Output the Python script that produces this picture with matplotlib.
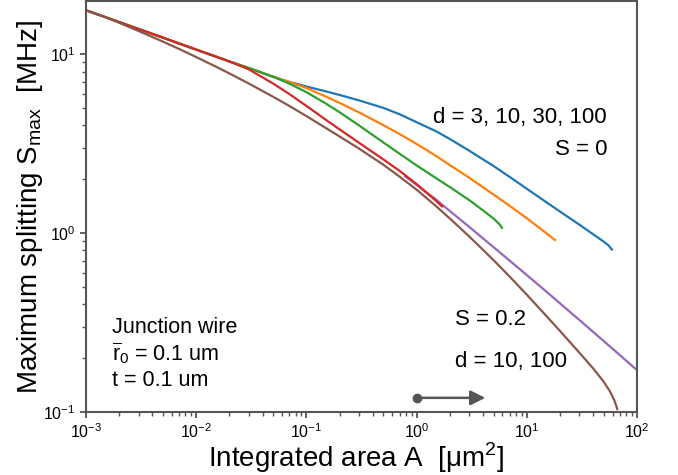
import numpy as np
import matplotlib
matplotlib.use("Agg")
import matplotlib.pyplot as plt

plt.rcParams['font.family'] = ['Liberation Sans', 'DejaVu Sans']
plt.rcParams['mathtext.fontset'] = 'dejavusans'

# S = 0 curves, d = 3, 10, 30, 100 (area in um^2, splitting in MHz)
area_d3 = [1e-3, 1.5e-3, 2e-3, 3e-3, 5e-3, 7e-3, 1e-2, 1.5e-2, 2e-2, 3e-2, 5e-2, 7e-2,
           0.1, 0.15, 0.2, 0.3, 0.5, 0.7, 1, 1.5, 2, 3, 5, 7, 10, 15, 20, 30, 50, 55, 59.3]
smax_d3 = [17.61, 16.11, 15.12, 13.83, 12.37, 11.48, 10.61, 9.71, 9.11, 8.37, 7.48, 7.00,
           6.60, 6.20, 5.92, 5.52, 5.01, 4.62, 4.17, 3.71, 3.36, 2.89, 2.37, 2.06, 1.77, 1.49,
           1.32, 1.115, 0.895, 0.855, 0.809]

area_d10 = [1e-3, 1.5e-3, 2e-3, 3e-3, 5e-3, 7e-3, 1e-2, 1.5e-2, 2e-2, 3e-2, 5e-2, 7e-2,
            0.1, 0.15, 0.2, 0.3, 0.5, 0.7, 1, 1.5, 2, 3, 5, 7, 10, 15, 18.0]
smax_d10 = [17.61, 16.11, 15.12, 13.83, 12.37, 11.48, 10.61, 9.71, 9.11, 8.37, 7.48, 7.00,
            6.47, 5.80, 5.34, 4.73, 4.01, 3.58, 3.15, 2.70, 2.40, 2.04, 1.64, 1.42, 1.21, 1.00, 0.915]

area_d30 = [1e-3, 1.5e-3, 2e-3, 3e-3, 5e-3, 7e-3, 1e-2, 1.5e-2, 2e-2, 3e-2, 5e-2, 7e-2,
            0.1, 0.15, 0.2, 0.3, 0.5, 0.7, 1, 1.5, 2, 3, 4, 5, 5.7, 5.96]
smax_d30 = [17.61, 16.11, 15.12, 13.83, 12.37, 11.48, 10.61, 9.71, 9.11, 8.37, 7.48, 6.85,
            6.14, 5.30, 4.74, 4.00, 3.21, 2.78, 2.39, 2.03, 1.81, 1.53, 1.34, 1.205, 1.114, 1.07]

area_d100 = [1e-3, 1.5e-3, 2e-3, 3e-3, 5e-3, 7e-3, 1e-2, 1.5e-2, 2e-2, 3e-2, 5e-2, 7e-2,
             0.1, 0.15, 0.2, 0.3, 0.5, 0.7, 1, 1.5, 1.70]
smax_d100 = [17.61, 16.11, 15.12, 13.83, 12.37, 11.48, 10.61, 9.71, 9.11, 8.23, 6.85, 5.99,
             5.14, 4.30, 3.80, 3.20, 2.58, 2.23, 1.88, 1.515, 1.41]

# S = 0.2 curves, d = 10, 100
area_s02_d10 = [0.785, 1.0, 1.5, 2, 3, 5, 7, 10, 15, 20, 30, 50, 70, 100]
smax_s02_d10 = [2.08, 1.86, 1.54, 1.33, 1.084, 0.834, 0.701, 0.583, 0.472, 0.405, 0.327,
                0.249, 0.208, 0.1714]

area_s02_d100 = [1e-3, 1.5e-3, 2e-3, 3e-3, 5e-3, 7e-3, 1e-2, 1.5e-2, 2e-2, 3e-2, 5e-2, 7e-2,
                 0.1, 0.15, 0.2, 0.3, 0.5, 0.7, 1, 1.5, 2, 3, 5, 7, 10, 15, 20, 30, 40, 50,
                 57, 62, 65, 66.2]
smax_s02_d100 = [17.61, 16.11, 14.99, 13.49, 11.75, 10.70, 9.64, 8.54, 7.81, 6.86, 5.78, 5.14,
                 4.51, 3.87, 3.47, 2.97, 2.41, 2.07, 1.75, 1.416, 1.208, 0.959, 0.706, 0.571,
                 0.453, 0.345, 0.284, 0.2146, 0.1754, 0.1474, 0.130, 0.117, 0.108, 0.104]

fig = plt.figure(figsize=(6.78, 4.75), dpi=100)
ax = fig.add_axes([0.1268, 0.1326, 0.8127, 0.865])

lw = 1.6
ax.plot(area_d3, smax_d3, color='C0', lw=lw)
ax.plot(area_d10, smax_d10, color='C1', lw=lw)
ax.plot(area_d30, smax_d30, color='C2', lw=lw)
ax.plot(area_s02_d10, smax_s02_d10, color='C4', lw=lw)
ax.plot(area_d100, smax_d100, color='C3', lw=lw)
ax.plot(area_s02_d100, smax_s02_d100, color='C5', lw=lw)

ax.set_xscale('log')
ax.set_yscale('log')
ax.set_xlim(1e-3, 1e2)
ax.set_ylim(0.1, 19.8)

for s in ax.spines.values():
    s.set_color('#555555')
    s.set_linewidth(1.5)
ax.tick_params(which='both', color='#555555')
ax.tick_params(which='major', width=1.3, length=4.5, labelsize=11.5, pad=3)
ax.tick_params(which='minor', width=1.0, length=3)

ax.set_xlabel(r'Integrated area A  [μm$^\mathregular{2}$]', fontsize=20)
ax.set_ylabel(r'Maximum splitting S$_\mathregular{max}$  [MHz]', fontsize=20)
ax.xaxis.set_label_coords(0.49, -0.07)
ax.yaxis.set_label_coords(-0.075, 0.5)

ax.text(0.9456, 0.703, 'd = 3, 10, 30, 100', transform=ax.transAxes,
        ha='right', va='baseline', fontsize=16)
ax.text(0.9456, 0.625, 'S = 0', transform=ax.transAxes,
        ha='right', va='baseline', fontsize=16)
ax.text(0.670, 0.2117, 'S = 0.2', transform=ax.transAxes,
        ha='left', va='baseline', fontsize=16)
ax.text(0.670, 0.1095, 'd = 10, 100', transform=ax.transAxes,
        ha='left', va='baseline', fontsize=16)

ax.text(0.047, 0.1922, 'Junction wire', transform=ax.transAxes,
        ha='left', va='baseline', fontsize=15.5)
ax.text(0.047, 0.1265, r'$\overline{\mathregular{r}}_\mathregular{0}$ = 0.1 um', transform=ax.transAxes,
        ha='left', va='baseline', fontsize=15.5)
ax.text(0.047, 0.0633, 't = 0.1 um', transform=ax.transAxes,
        ha='left', va='baseline', fontsize=15.5)

# arrow marking A = 1 um^2
ax.annotate('', xy=(4.2, 0.12), xytext=(1.0, 0.12),
            arrowprops=dict(arrowstyle='-|>', color='#555555', lw=1.8,
                            mutation_scale=22, shrinkA=0, shrinkB=0))
ax.plot([1.0], [0.12], 'o', color='#555555', ms=6)

fig.savefig('out.png', dpi=100)
